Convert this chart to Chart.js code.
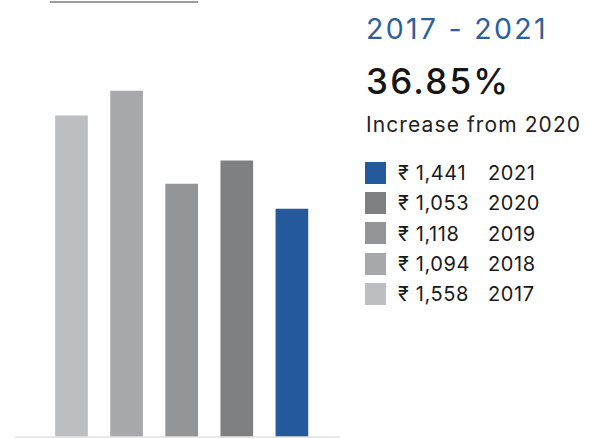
<!DOCTYPE html>
<html>
<head>
<meta charset="utf-8">
<script src="https://cdn.jsdelivr.net/npm/chart.js@4"></script>
<style>
  html, body { margin: 0; padding: 0; background: #fff; }
  body { width: 591px; height: 439px; position: relative; overflow: hidden; font-family: Inter, "Noto Sans", sans-serif; }
  #chart-box { position: absolute; left: 0; top: 0; width: 350px; height: 439px; }
  .top-rule { position: absolute; left: 50px; top: 1px; width: 148px; height: 2px; background: #9b9b9b; }
  .period, .growth, .growth-note, .legend-amount, .legend-year { white-space: nowrap; }
  .period { position: absolute; left: 366px; top: 15.4px; font-size: 28.5px; line-height: 28.5px; letter-spacing: 2.3px; color: #2d5f9e; }
  .growth { position: absolute; left: 366px; top: 63.8px; font-size: 35px; line-height: 35px; letter-spacing: 2.2px; font-weight: 500; color: #151515; }
  .growth-note { position: absolute; left: 366px; top: 113.6px; font-size: 21px; line-height: 21px; letter-spacing: 1.1px; color: #222; }
  .legend { position: absolute; left: 365px; top: 162px; }
  .legend-row { position: relative; height: 30.2px; }
  .legend-swatch { position: absolute; left: 0; top: 0; width: 21px; height: 22px; }
  .legend-amount { position: absolute; left: 33px; top: 1.2px; font-size: 20px; line-height: 20px; letter-spacing: 0.6px; color: #1a1a1a; }
  .legend-year { position: absolute; left: 123px; top: 1.2px; font-size: 20px; line-height: 20px; letter-spacing: 0.6px; color: #1a1a1a; }
</style>
</head>
<body>
<div id="chart-box"><canvas id="spend-chart"></canvas></div>
<div class="top-rule"></div>
<div class="period">2017 - 2021</div>
<div class="growth">36.85%</div>
<div class="growth-note">Increase from 2020</div>
<div class="legend" id="legend"></div>

<script>
// Years shown, oldest first
const years = [2017, 2018, 2019, 2020, 2021];
// Column heights as drawn (index, tallest column = 100)
const columnLevels = [92.8, 100, 73.1, 79.8, 65.9];
// Amounts listed next to each year
const amounts = ['1,558', '1,094', '1,118', '1,053', '1,441'];
const yearColors = ['#bdbec1', '#a7a8ab', '#939495', '#7f8082', '#245a9b'];

// Legend: newest year on top
const legendEl = document.getElementById('legend');
let html = '';
for (let i = years.length - 1; i >= 0; i--) {
    html += `<div class="legend-row">
        <div class="legend-swatch" style="background:${yearColors[i]}"></div>
        <div class="legend-amount">₹ ${amounts[i]}</div>
        <div class="legend-year">${years[i]}</div>
    </div>`;
}
legendEl.innerHTML = html;

// thin base line under the columns
const baseLine = {
    id: 'baseLine',
    afterDatasetsDraw(chart) {
        const { ctx, chartArea } = chart;
        const y = chart.scales.y.getPixelForValue(0);
        ctx.save();
        ctx.strokeStyle = '#e2e2e2';
        ctx.lineWidth = 1.5;
        ctx.beginPath();
        ctx.moveTo(chartArea.left, y);
        ctx.lineTo(chartArea.right, y);
        ctx.stroke();
        ctx.restore();
    }
};

new Chart(document.getElementById('spend-chart'), {
    type: 'bar',
    data: {
        datasets: [{
            data: years.map((yr, i) => ({ x: yr, y: columnLevels[i] })),
            backgroundColor: yearColors,
            borderWidth: 0,
            barThickness: 32
        }]
    },
    options: {
        responsive: true,
        maintainAspectRatio: false,
        animation: false,
        layout: { padding: { left: 15, right: 10, top: 0, bottom: 2 } },
        plugins: {
            legend: { display: false },
            tooltip: { enabled: false }
        },
        scales: {
            x: { type: 'linear', display: false, offset: false, min: 2015.975, max: 2021.873 },
            y: { display: false, min: 0, max: 126.3 }
        }
    },
    plugins: [baseLine]
});
</script>
</body>
</html>
